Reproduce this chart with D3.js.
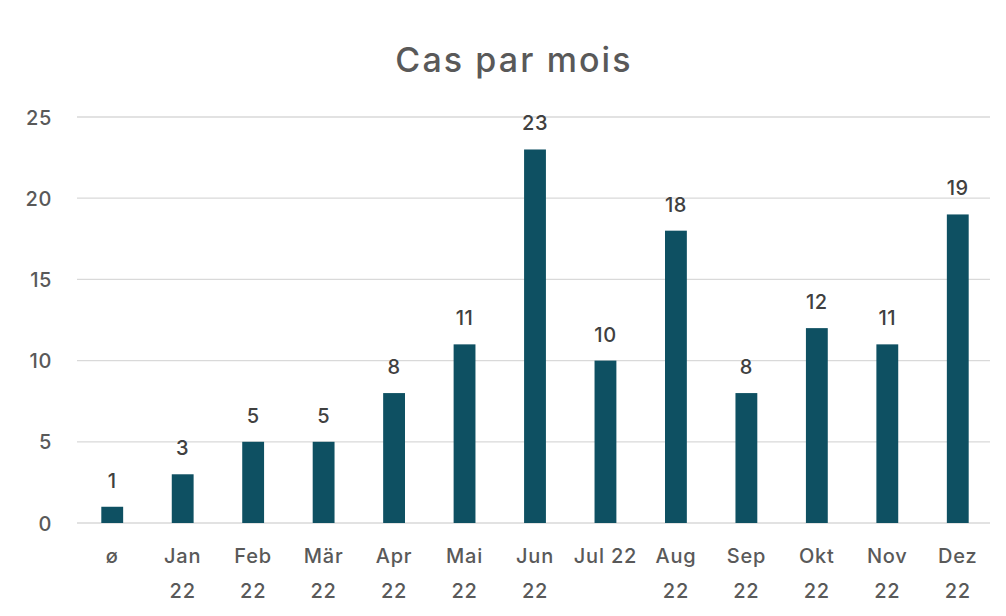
<!DOCTYPE html>
<html>
<head>
<meta charset="utf-8">
<script src="https://cdn.jsdelivr.net/npm/d3@7"></script>
<style>
  body { margin: 0; background: #fff; }
  svg text { font-family: "Inter", "Noto Sans", sans-serif; }
</style>
</head>
<body>
<svg id="chart" width="1006" height="616"></svg>
<script>
// Data
const categories = ['ø', 'Jan 22', 'Feb 22', 'Mär 22', 'Apr 22', 'Mai 22', 'Jun 22', 'Jul 22', 'Aug 22', 'Sep 22', 'Okt 22', 'Nov 22', 'Dez 22'];
// how the category labels wrap under the axis
const categoryLines = [['ø'], ['Jan', '22'], ['Feb', '22'], ['Mär', '22'], ['Apr', '22'], ['Mai', '22'], ['Jun', '22'], ['Jul 22'], ['Aug', '22'], ['Sep', '22'], ['Okt', '22'], ['Nov', '22'], ['Dez', '22']];
const cases = [1, 3, 5, 5, 8, 11, 23, 10, 18, 8, 12, 11, 19];
const yTicks = [0, 5, 10, 15, 20, 25];

const svg = d3.select('#chart');
const margin = { top: 117, right: 14, bottom: 93, left: 77 };
const width = 1006, height = 616;

const x = d3.scaleBand()
  .domain(categories)
  .range([margin.left, width - margin.right + 1])
  .paddingInner(0.69)
  .paddingOuter(0.345);

const y = d3.scaleLinear()
  .domain([0, 25])
  .range([height - margin.bottom, margin.top]);

// Title
svg.append('text')
  .attr('x', 514)
  .attr('y', 72)
  .attr('text-anchor', 'middle')
  .attr('font-size', 34)
  .attr('font-weight', 500)
  .attr('letter-spacing', 2.1)
  .attr('fill', '#595959')
  .text('Cas par mois');

// Gridlines
svg.append('g')
  .selectAll('line')
  .data(yTicks)
  .join('line')
  .attr('x1', margin.left)
  .attr('x2', width - margin.right - 2)
  .attr('y1', (d) => y(d))
  .attr('y2', (d) => y(d))
  .attr('stroke', '#d9d9d9')
  .attr('stroke-width', 1.3);

// Y axis labels
const yAxis = svg.append('g')
  .attr('transform', `translate(${margin.left - 25},0)`)
  .call(d3.axisLeft(y).tickValues(yTicks).tickSize(0).tickPadding(0));
yAxis.select('.domain').remove();
yAxis.selectAll('text')
  .attr('font-size', 20)
  .attr('font-weight', 500)
  .attr('letter-spacing', 0.6)
  .attr('fill', '#595959')
  .attr('font-family', '"Inter", "Noto Sans", sans-serif')
  .attr('dy', '0.35em');

// Bars
svg.append('g')
  .selectAll('rect')
  .data(cases)
  .join('rect')
  .attr('x', (d, i) => x(categories[i]))
  .attr('y', (d) => y(d))
  .attr('width', x.bandwidth())
  .attr('height', (d) => y(0) - y(d))
  .attr('fill', '#0e5062');

// Value labels
svg.append('g')
  .selectAll('text')
  .data(cases)
  .join('text')
  .attr('x', (d, i) => x(categories[i]) + x.bandwidth() / 2)
  .attr('y', (d) => y(d) - 19)
  .attr('text-anchor', 'middle')
  .attr('font-size', 20)
  .attr('font-weight', 500)
  .attr('letter-spacing', 0.6)
  .attr('fill', '#404040')
  .text((d) => d);

// X axis labels
const xLabels = svg.append('g')
  .selectAll('text')
  .data(categories)
  .join('text')
  .attr('x', (d) => x(d) + x.bandwidth() / 2)
  .attr('y', 563)
  .attr('text-anchor', 'middle')
  .attr('font-size', 20)
  .attr('font-weight', 500)
  .attr('letter-spacing', 0.8)
  .attr('fill', '#595959');

xLabels.selectAll('tspan')
  .data((d, i) => categoryLines[i])
  .join('tspan')
  .attr('x', function () { return this.parentNode.getAttribute('x'); })
  .attr('dy', (d, i) => (i === 0 ? 0 : 35))
  .text((d) => d);
</script>
</body>
</html>
